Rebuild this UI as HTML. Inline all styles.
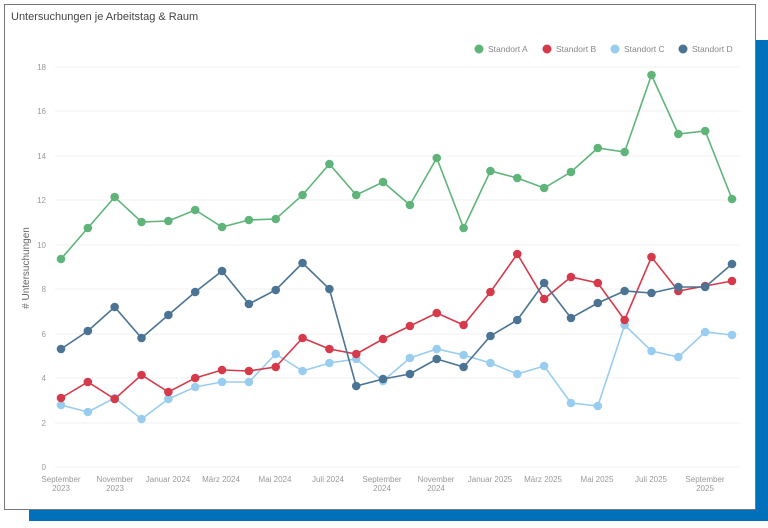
<!DOCTYPE html>
<html><head><meta charset="utf-8"><style>
body{margin:0;width:768px;height:528px;background:#fff;position:relative;overflow:hidden;font-family:"Liberation Sans",sans-serif}
.blue{position:absolute;left:29px;top:40px;width:739px;height:481px;background:#0070ba}
.card{position:absolute;left:4px;top:4px;width:750px;height:504px;background:#fff;border:1px solid #777}
</style></head><body>
<div class="blue"></div>
<div class="card"></div>
<svg width="768" height="528" style="position:absolute;left:0;top:0" font-family="Liberation Sans, sans-serif">
<text x="11" y="20" font-size="11" fill="#444">Untersuchungen je Arbeitstag &amp; Raum</text>
<g font-size="8.5" fill="#888">
<circle cx="479" cy="49" r="4.5" fill="#5fb47a"/><text x="488" y="52">Standort A</text>
<circle cx="547" cy="49" r="4.5" fill="#d63a4a"/><text x="556" y="52">Standort B</text>
<circle cx="615" cy="49" r="4.5" fill="#99cdf0"/><text x="624" y="52">Standort C</text>
<circle cx="683" cy="49" r="4.5" fill="#4a7394"/><text x="692" y="52">Standort D</text>
</g>
<g stroke="#f2f2f2" stroke-width="1">
<line x1="55" x2="740" y1="67" y2="67"/><line x1="55" x2="740" y1="111" y2="111"/><line x1="55" x2="740" y1="156" y2="156"/><line x1="55" x2="740" y1="200" y2="200"/><line x1="55" x2="740" y1="245" y2="245"/><line x1="55" x2="740" y1="289" y2="289"/><line x1="55" x2="740" y1="334" y2="334"/><line x1="55" x2="740" y1="378" y2="378"/><line x1="55" x2="740" y1="423" y2="423"/><line x1="55" x2="740" y1="467" y2="467"/>
</g>
<g font-size="8" fill="#999" text-anchor="end">
<text x="46" y="70">18</text><text x="46" y="114">16</text><text x="46" y="159">14</text><text x="46" y="203">12</text><text x="46" y="248">10</text><text x="46" y="292">8</text><text x="46" y="337">6</text><text x="46" y="381">4</text><text x="46" y="426">2</text><text x="46" y="470">0</text>
</g>
<text transform="translate(29,268) rotate(-90)" font-size="10" fill="#666" text-anchor="middle"># Untersuchungen</text>
<g font-size="8" fill="#999" text-anchor="middle">
<text x="61" y="482">September</text><text x="61" y="491">2023</text>
<text x="115" y="482">November</text><text x="115" y="491">2023</text>
<text x="168" y="482">Januar 2024</text>
<text x="221" y="482">März 2024</text>
<text x="275" y="482">Mai 2024</text>
<text x="328" y="482">Juli 2024</text>
<text x="382" y="482">September</text><text x="382" y="491">2024</text>
<text x="436" y="482">November</text><text x="436" y="491">2024</text>
<text x="490" y="482">Januar 2025</text>
<text x="543" y="482">März 2025</text>
<text x="597" y="482">Mai 2025</text>
<text x="651" y="482">Juli 2025</text>
<text x="705" y="482">September</text><text x="705" y="491">2025</text>
</g>
<g id="s"></g>
</svg>
<script>
const X=i=>61+i*26.84;
const S=[
["#99cdf0",[405,412,398,419,399,387,382,382,354,371,363,359,381,358,349,355,363,374,366,403,406,325,351,357,332,335]],
["#d63a4a",[398,382,399,375,392,378,370,371,367,338,349,354,339,326,313,325,292,254,299,277,283,320,257,291,286,281]],
["#4a7394",[349,331,307,338,315,292,271,304,290,263,289,386,379,374,359,367,336,320,283,318,303,291,293,287,287,264]],
["#5fb47a",[259,228,197,222,221,210,227,220,219,195,164,195,182,205,158,228,171,178,188,172,148,152,75,134,131,199]]];
let h="";
for(const [c,d] of S){h+=`<polyline fill="none" stroke="${c}" stroke-width="1.6" points="${d.map((y,i)=>X(i)+","+y).join(" ")}"/>`;
d.forEach((y,i)=>h+=`<circle cx="${X(i)}" cy="${y}" r="4.3" fill="${c}"/>`);}
document.getElementById("s").innerHTML=h;
</script>
</body></html>
